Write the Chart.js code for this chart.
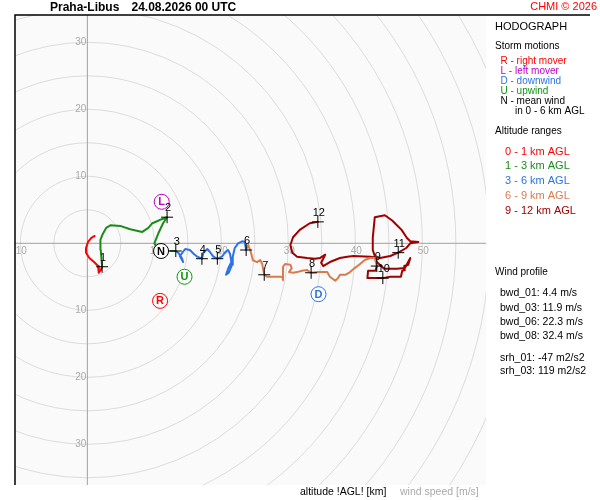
<!DOCTYPE html>
<html>
<head>
<meta charset="utf-8">
<title>Hodograph Praha-Libus</title>
<script src="https://cdn.jsdelivr.net/npm/chart.js@4.4.1/dist/chart.umd.min.js"></script>
<style>
body { margin: 0; background: #fff; }
canvas { display: block; }
</style>
</head>
<body>
<canvas id="hodo" width="600" height="500"></canvas>
<script>
// wind vector ends [u, v] in m/s, per altitude range
var layer0to1 = [[1.1,1.1],[0.6,0.8],[0.1,0.2],[-0.2,-0.7],[-0.2,-1.4],[0.3,-2.2],[1.0,-2.8],[1.6,-3.4],[1.7,-4.4],[2.0,-4.0],[2.2,-3.5]];
var layer1to3 = [[2.2,-3.5],[2.0,-1.0],[1.9,-0.25],[2.0,0.5],[2.3,1.4],[2.8,2.3],[3.5,2.7],[4.9,2.6],[6.4,2.1],[8.2,1.7],[9.1,2.3],[9.7,3.0],[10.4,3.3],[11.1,3.6],[11.9,3.9],[11.3,3.0],[10.6,1.5],[10.0,0.0],[10.6,-1.0],[11.7,-1.1],[13.2,-1.15]];
var layer3to6 = [[13.2,-1.15],[13.6,-1.45],[14.1,-2.2],[14.3,-2.8],[13.8,-1.9],[14.6,-0.85],[15.3,-1.0],[15.9,-1.6],[16.4,-2.0],[17.1,-2.3],[17.3,-1.45],[17.9,-0.85],[18.3,-1.3],[18.8,-2.0],[19.4,-2.3],[20.1,-2.0],[20.6,-1.3],[21.0,-1.0],[21.3,-1.6],[21.5,-2.8],[21.0,-3.8],[20.7,-4.7],[21.1,-4.4],[21.6,-3.2],[21.7,-2.0],[22.0,-0.7],[22.5,0.0],[23.1,0.3],[23.5,0.2],[23.7,-1.0]];
var layer6to9 = [[23.7,-1.0],[24.0,-0.25],[24.4,-1.3],[24.7,-2.5],[25.3,-2.8],[25.8,-2.5],[26.1,-3.1],[26.4,-4.7],[26.8,-5.0],[27.7,-5.0],[29.1,-5.0],[29.2,-5.5],[29.2,-3.5],[29.5,-3.1],[30.3,-3.2],[30.5,-3.7],[30.1,-4.3],[30.7,-4.4],[31.3,-4.3],[32.0,-4.1],[32.8,-4.0],[33.4,-4.4],[34.4,-4.3],[35.8,-4.3],[36.2,-5.0],[37.0,-5.6],[37.4,-5.2],[37.7,-4.7],[38.5,-4.7],[39.2,-4.3],[39.9,-3.7],[40.7,-3.1],[41.4,-2.5],[42.2,-2.2],[42.9,-2.2],[43.2,-3.4]];
var layer9to12 = [[43.2,-3.4],[43.0,-4.1],[41.9,-4.1],[41.8,-5.2],[44.1,-5.2],[45.2,-5.0],[46.8,-5.0],[47.0,-4.1],[47.4,-4.0],[47.3,-3.4],[47.9,-3.2],[48.2,-2.2],[47.4,-3.7],[46.2,-3.8],[44.3,-3.8],[43.2,-2.8],[42.6,-1.0],[42.6,0.8],[42.9,3.9],[44.4,4.2],[45.5,3.4],[46.2,2.7],[46.9,2.0],[47.7,0.8],[48.2,0.3],[49.4,0.2],[48.2,0.0],[47.6,-0.7],[46.4,-1.4],[45.2,-1.9],[43.7,-2.2],[42.2,-2.0],[39.7,-1.9],[38.8,-2.0],[37.7,-2.2],[36.2,-2.8],[35.2,-3.4],[34.9,-2.9],[35.5,-1.7],[34.7,-2.2],[34.0,-2.3],[32.8,-2.2],[31.3,-2.0],[30.6,-1.4],[30.3,-0.25],[30.7,0.9],[31.7,2.0],[33.2,3.0],[34.4,3.2]];

// whole-km marks
var kmLabels = ['1','2','3','4','5','6','7','8','9','10','11','12'];
var kmU = [2.2, 11.9, 13.2, 17.1, 19.4, 23.7, 26.4, 33.4, 43.2, 44.1, 46.4, 34.4];
var kmV = [-3.5, 3.9, -1.15, -2.3, -2.3, -1.0, -4.7, -4.4, -3.4, -5.2, -1.4, 3.2];

// storm motions
var stormNames = ['R', 'L', 'D', 'U', 'N'];
var stormU = [10.85, 11.1, 34.5, 14.5, 11.0];
var stormV = [-8.6, 6.2, -7.6, -5.0, -1.15];
var stormColors = ['#ff0000', '#c000c0', '#2b72e6', '#129412', '#000000'];

var ringSpeeds = [5, 10, 15, 20, 25, 30, 35, 40, 45, 50, 55, 60, 65, 70];
var tickSpeeds = [10, 20, 30, 40, 50];

var layerNames = ['0 - 1 km AGL', '1 - 3 km AGL', '3 - 6 km AGL', '6 - 9 km AGL', '9 - 12 km AGL'];
var layerColors = ['#ff0000', '#1a8c1a', '#2b72e6', '#d97b4f', '#a00000'];

var stormTexts = ['R - right mover', 'L - left mover', 'D - downwind', 'U - upwind', 'N - mean wind'];
var profileTexts = ['bwd_01: 4.4 m/s', 'bwd_03: 11.9 m/s', 'bwd_06: 22.3 m/s', 'bwd_08: 32.4 m/s'];
var helicityTexts = ['srh_01: -47 m2/s2', 'srh_03: 119 m2/s2'];

var FONT = '"Liberation Sans", Arial, sans-serif';

function toXY(arr) {
    return arr.map(function (p) { return { x: p[0], y: p[1] }; });
}
function zipXY(us, vs) {
    return us.map(function (u, i) { return { x: u, y: vs[i] }; });
}

var hodoPlugin = {
    id: 'hodo',
    beforeDatasetsDraw: function (chart) {
        var ctx = chart.ctx, a = chart.chartArea;
        var sx = chart.scales.x, sy = chart.scales.y;
        var x0 = sx.getPixelForValue(0), y0 = sy.getPixelForValue(0);
        ctx.save();
        ctx.fillStyle = '#fafafa';
        ctx.fillRect(a.left, a.top, a.right - a.left, a.bottom - a.top);
        ctx.beginPath();
        ctx.rect(a.left, a.top, a.right - a.left, a.bottom - a.top);
        ctx.clip();
        // speed rings
        ctx.strokeStyle = '#dcdcdc';
        ctx.lineWidth = 1;
        ringSpeeds.forEach(function (s) {
            var r = sx.getPixelForValue(s) - x0;
            ctx.beginPath();
            ctx.arc(x0, y0, r, 0, 2 * Math.PI);
            ctx.stroke();
        });
        // u and v axes
        ctx.strokeStyle = '#a0a0a0';
        ctx.beginPath();
        ctx.moveTo(a.left, y0); ctx.lineTo(a.right, y0);
        ctx.moveTo(x0, a.top); ctx.lineTo(x0, a.bottom);
        ctx.stroke();
        // ring labels
        ctx.fillStyle = '#aaaaaa';
        ctx.font = '10px ' + FONT;
        ctx.textAlign = 'center';
        ctx.textBaseline = 'middle';
        tickSpeeds.forEach(function (s) {
            [-s, s].forEach(function (u) {
                var px = sx.getPixelForValue(u);
                if (px > a.left + 4 && px < a.right - 4) ctx.fillText(String(s), px + 1, y0 + 8);
            });
        });
        ctx.textAlign = 'right';
        tickSpeeds.forEach(function (s) {
            [-s, s].forEach(function (v) {
                var py = sy.getPixelForValue(v);
                if (py > a.top + 4 && py < a.bottom - 4) ctx.fillText(String(s), x0 - 1, py);
            });
        });
        ctx.restore();
    },
    afterDatasetsDraw: function (chart) {
        var ctx = chart.ctx;
        ctx.save();
        ctx.textAlign = 'center';
        ctx.textBaseline = 'middle';
        // km numbers above the crosses
        ctx.fillStyle = '#000';
        ctx.font = '11px ' + FONT;
        chart.getDatasetMeta(1).data.forEach(function (pt, i) {
            ctx.fillText(kmLabels[i], pt.x + 1, pt.y - 9);
        });
        // letters inside storm circles
        ctx.font = 'bold 11px ' + FONT;
        chart.getDatasetMeta(0).data.forEach(function (pt, i) {
            ctx.fillStyle = stormColors[i];
            ctx.fillText(stormNames[i], pt.x, pt.y + 0.5);
        });
        ctx.restore();
    },
    afterDraw: function (chart) {
        var ctx = chart.ctx, a = chart.chartArea;
        ctx.save();
        // frame: top and left only
        ctx.strokeStyle = '#000';
        ctx.lineWidth = 1.5;
        ctx.beginPath();
        ctx.moveTo(a.left, a.bottom); ctx.lineTo(a.left, a.top); ctx.lineTo(590, a.top);
        ctx.stroke();

        ctx.textBaseline = 'middle';
        ctx.textAlign = 'left';
        ctx.fillStyle = '#000';
        ctx.font = 'bold 12px ' + FONT;
        ctx.fillText('Praha-Libus', 50, 7.5);
        ctx.fillText('24.08.2026 00 UTC', 131.5, 7.5);

        ctx.textAlign = 'right';
        ctx.fillStyle = '#ff0000';
        ctx.font = '11px ' + FONT;
        ctx.fillText('CHMI \u00a9 2026', 597, 7);

        // side legend
        ctx.textAlign = 'left';
        ctx.fillStyle = '#000';
        ctx.font = '11px ' + FONT;
        ctx.fillText('HODOGRAPH', 495, 26.5);
        ctx.font = '10px ' + FONT;
        ctx.fillText('Storm motions', 495, 46.5);
        stormTexts.forEach(function (t, i) {
            ctx.fillStyle = stormColors[i];
            ctx.fillText(t, 500.5, 61.5 + i * 10);
        });
        ctx.fillStyle = '#000';
        ctx.fillText('in 0 - 6 km AGL', 515, 111.5);
        ctx.fillText('Altitude ranges', 495, 131.5);
        ctx.font = '11px ' + FONT;
        layerNames.forEach(function (t, i) {
            ctx.fillStyle = layerColors[i];
            ctx.fillText(t, 505, 151.5 + i * 14.9);
        });
        ctx.fillStyle = '#000';
        ctx.font = '10px ' + FONT;
        ctx.fillText('Wind profile', 495, 272.5);
        ctx.font = '10.5px ' + FONT;
        profileTexts.forEach(function (t, i) {
            ctx.fillText(t, 500, 293.5 + i * 14.2);
        });
        helicityTexts.forEach(function (t, i) {
            ctx.fillText(t, 500, 358 + i * 13.5);
        });

        // footer
        ctx.font = '10.5px ' + FONT;
        ctx.fillStyle = '#000';
        ctx.fillText('altitude !AGL! [km]', 300, 492);
        ctx.fillStyle = '#aaaaaa';
        ctx.fillText('wind speed [m/s]', 400, 492);
        ctx.restore();
    }
};

function layerSet(points, color) {
    return {
        data: toXY(points),
        showLine: true,
        borderColor: color,
        borderWidth: 2,
        borderJoinStyle: 'round',
        borderCapStyle: 'round',
        pointRadius: 0,
        fill: false
    };
}

new Chart(document.getElementById('hodo'), {
    type: 'scatter',
    data: {
        datasets: [
            {
                // storm motion circles (drawn on top)
                data: zipXY(stormU, stormV),
                pointStyle: 'circle',
                pointRadius: 7.5,
                pointBackgroundColor: '#ffffff',
                pointBorderColor: stormColors,
                pointBorderWidth: 1
            },
            {
                data: zipXY(kmU, kmV),
                pointStyle: 'cross',
                pointRadius: 6,
                pointBorderColor: '#000000',
                pointBorderWidth: 1
            },
            layerSet(layer0to1, layerColors[0]),
            layerSet(layer1to3, layerColors[1]),
            layerSet(layer3to6, layerColors[2]),
            layerSet(layer6to9, layerColors[3]),
            layerSet(layer9to12, layerColors[4])
        ]
    },
    options: {
        responsive: false,
        animation: false,
        layout: { padding: { left: 15, top: 15, right: 114, bottom: 15 } },
        scales: {
            x: { type: 'linear', min: -10.8, max: 59.5, display: false },
            y: { type: 'linear', min: -36.1, max: 34.1, display: false }
        },
        plugins: {
            legend: { display: false },
            tooltip: { enabled: false }
        }
    },
    plugins: [hodoPlugin]
});
</script>
</body>
</html>
